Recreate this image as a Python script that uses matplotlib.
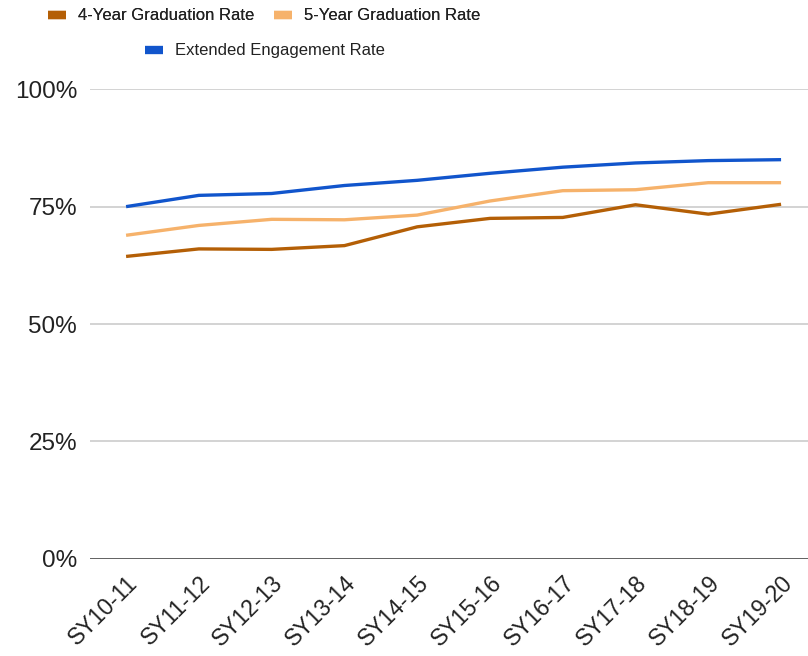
import matplotlib
matplotlib.use("Agg")
import matplotlib.pyplot as plt
from matplotlib.lines import Line2D

plt.rcParams['font.family'] = ['Liberation Sans', 'DejaVu Sans']

categories = ["SY10-11", "SY11-12", "SY12-13", "SY13-14", "SY14-15",
              "SY15-16", "SY16-17", "SY17-18", "SY18-19", "SY19-20"]
grad4 = [64.4, 66.0, 65.9, 66.7, 70.7, 72.5, 72.7, 75.4, 73.4, 75.5]
grad5 = [68.9, 71.0, 72.3, 72.2, 73.2, 76.2, 78.4, 78.6, 80.1, 80.1]
extended = [75.0, 77.4, 77.8, 79.5, 80.6, 82.1, 83.4, 84.3, 84.8, 85.0]
series_names = ["4-Year Graduation Rate", "5-Year Graduation Rate", "Extended Engagement Rate"]
colors = ["#B45F06", "#F6B26B", "#1155CC"]
yticks = [0, 25, 50, 75, 100]
ytick_labels = ["0%", "25%", "50%", "75%", "100%"]

fig = plt.figure(figsize=(8.08, 6.56), dpi=100)
ax = fig.add_axes([0.111, 0.148, 0.889, 0.716])

x = list(range(len(categories)))
for vals, c in zip([grad4, grad5, extended], colors):
    ax.plot(x, vals, color=c, lw=2.4, solid_capstyle='butt', zorder=3)

ax.set_ylim(0, 100)
ax.set_xlim(-0.5, 9.37)
ax.set_yticks(yticks)
ax.set_yticklabels(ytick_labels, fontsize=17.5, color="#222222")
ax.set_xticks(x)
ax.set_xticklabels(categories, rotation=45, ha='right', va='top', rotation_mode='anchor',
                   fontsize=16.5, color="#222222")
ax.tick_params(axis='both', length=0)
ax.tick_params(axis='y', pad=9)
ax.tick_params(axis='x', pad=9)
for s in ax.spines.values():
    s.set_visible(False)
for yv in yticks[1:]:
    ax.axhline(yv, color="#CCCCCC", lw=1.2, zorder=1)
ax.axhline(0, color="#333333", lw=1.8, zorder=2)

handles = [Line2D([0], [0], color=c, lw=6, solid_capstyle='butt') for c in colors]
prop = {'family': ['Liberation Sans'], 'size': 12}
leg_kw = dict(frameon=False, prop=prop, handlelength=1.05, handletextpad=0.75,
              columnspacing=1.2, labelcolor="#222222", borderpad=0, borderaxespad=0)
leg1 = fig.legend(handles[:2], series_names[:2], loc='center left',
                  bbox_to_anchor=(48 / 808, 1 - 16 / 656), ncol=2, **leg_kw)
fig.add_artist(leg1)
leg2 = fig.legend(handles[2:], series_names[2:], loc='center left',
                  bbox_to_anchor=(145 / 808, 1 - 51 / 656), **leg_kw)

fig.savefig("out.png", dpi=100)
